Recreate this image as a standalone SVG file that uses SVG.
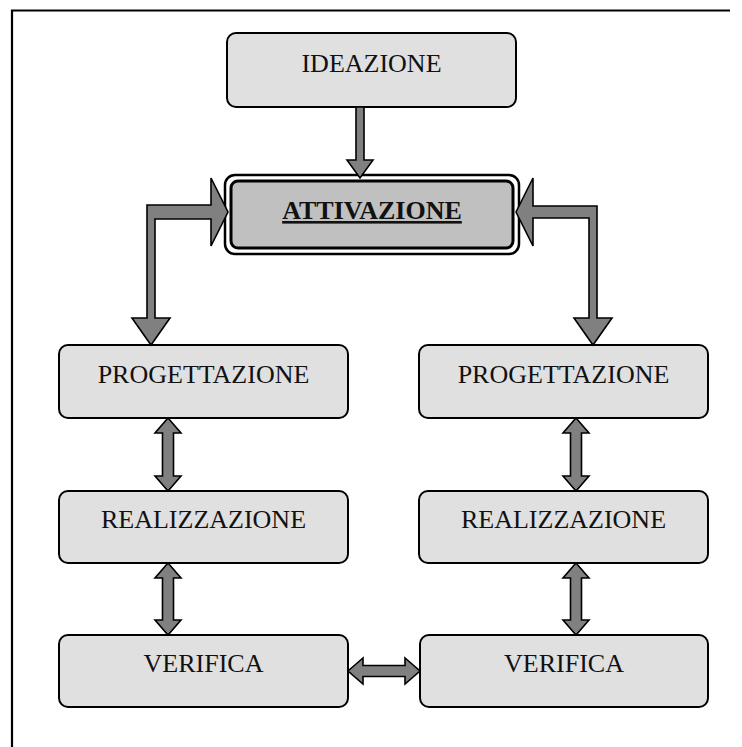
<svg xmlns="http://www.w3.org/2000/svg" width="742" height="747" viewBox="0 0 742 747">
<style>
.box{fill:#e0e0e0;stroke:#000;stroke-width:2}
.lbl{font-family:"Liberation Serif","Times New Roman",serif;font-size:26px;fill:#111;text-anchor:middle}
.arr{fill:#808080;stroke:#000;stroke-width:1.6;stroke-linejoin:miter}
</style>
<rect width="742" height="747" fill="#fff"/>
<path d="M12,747 V10.5 H730" fill="none" stroke="#000" stroke-width="2.2"/>
<g id="ideazione"><rect class="box" x="227" y="33" width="289" height="74" rx="9"/><text class="lbl" x="371.5" y="72">IDEAZIONE</text></g>
<g id="attivazione">
<rect x="225" y="175" width="294" height="79" rx="10" fill="#fff" stroke="#000" stroke-width="2.5"/>
<rect x="231" y="181" width="282" height="67" rx="7" fill="#c0c0c0" stroke="#000" stroke-width="3"/>
<text class="lbl" x="372" y="219" font-size="27" font-weight="bold" text-decoration="underline">ATTIVAZIONE</text>
</g>
<g id="progettazione-sx"><rect class="box" x="59" y="345" width="289" height="73" rx="9"/><text class="lbl" x="203.5" y="383">PROGETTAZIONE</text></g>
<g id="progettazione-dx"><rect class="box" x="419" y="345" width="289" height="73" rx="9"/><text class="lbl" x="563.5" y="383">PROGETTAZIONE</text></g>
<g id="realizzazione-sx"><rect class="box" x="59" y="491" width="289" height="72" rx="9"/><text class="lbl" x="203.5" y="528">REALIZZAZIONE</text></g>
<g id="realizzazione-dx"><rect class="box" x="419" y="491" width="289" height="72" rx="9"/><text class="lbl" x="563.5" y="528">REALIZZAZIONE</text></g>
<g id="verifica-sx"><rect class="box" x="59" y="635" width="289" height="72" rx="9"/><text class="lbl" x="203.5" y="672">VERIFICA</text></g>
<g id="verifica-dx"><rect class="box" x="420" y="635" width="288" height="72" rx="9"/><text class="lbl" x="564" y="672">VERIFICA</text></g>
<g id="connectors">
<polygon class="arr" points="356,107 364,107 364,160 373,160 360,178 347,160 356,160"/>
<polygon class="arr" points="147,205 211,205 211,178 228,212 211,246 211,219 155,219 155,318 170,318 151,345 132,318 147,318"/>
<polygon class="arr" points="516,212 533,178 533,206 597,206 597,318 612,318 593,345 574,318 589,318 589,218 533,218 533,246"/>
<polygon class="arr" points="168,418 181,433 173.5,433 173.5,476 181,476 168,491 155,476 162.5,476 162.5,433 155,433"/>
<polygon class="arr" points="168,563 181,578 173.5,578 173.5,620 181,620 168,635 155,620 162.5,620 162.5,578 155,578"/>
<polygon class="arr" points="576,418 589,433 581.5,433 581.5,476 589,476 576,491 563,476 570.5,476 570.5,433 563,433"/>
<polygon class="arr" points="576,563 589,578 581.5,578 581.5,620 589,620 576,635 563,620 570.5,620 570.5,578 563,578"/>
<polygon class="arr" points="348,671 363,658 363,665.5 405,665.5 405,658 420,671 405,684 405,676.5 363,676.5 363,684"/>
</g>
</svg>
